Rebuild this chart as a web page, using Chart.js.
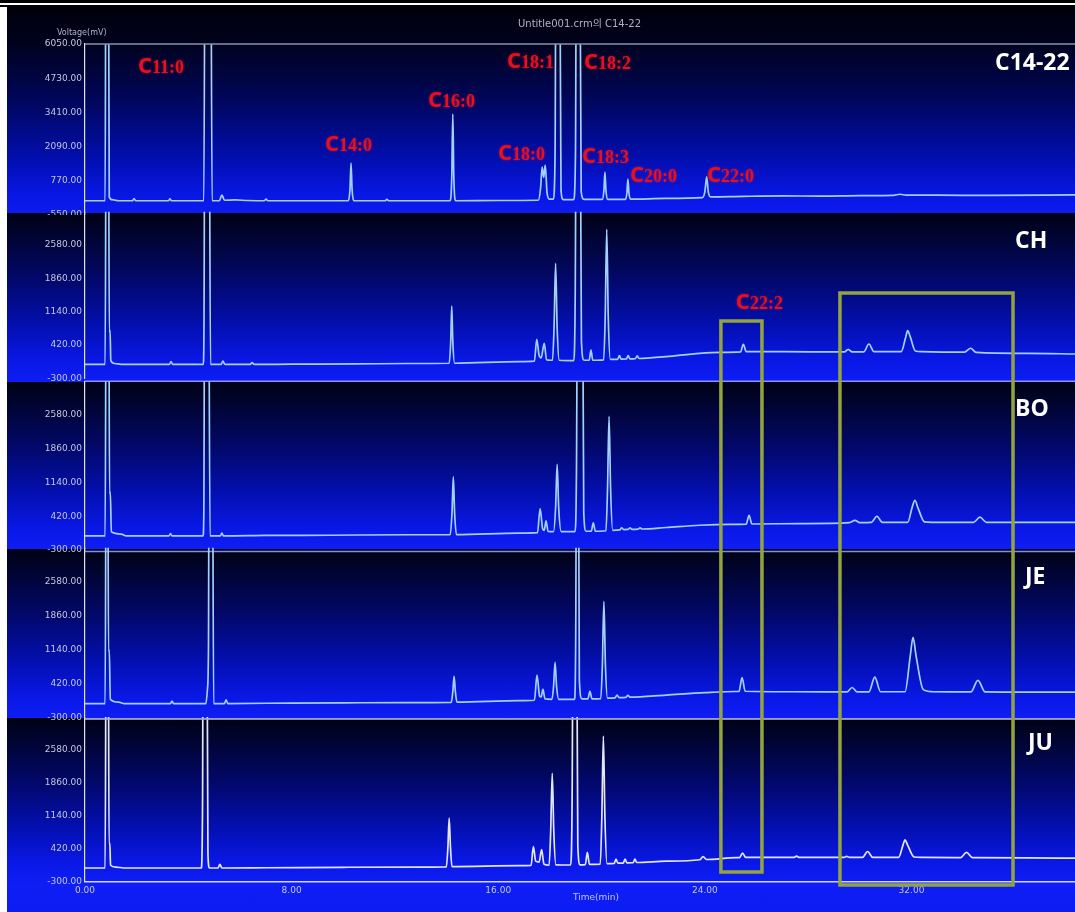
<!DOCTYPE html>
<html>
<head>
<meta charset="utf-8">
<script src="https://cdn.jsdelivr.net/npm/chart.js@4.4.1/dist/chart.umd.min.js"></script>
<style>
  html, body { margin: 0; padding: 0; background: #fff; }
  #page { position: relative; width: 1075px; height: 912px; overflow: hidden; background: #fff; }
  .rule { position: absolute; left: 0; width: 1075px; background: #000; }
  .band { position: absolute; left: 7px; width: 1068px; }
  .band.std { background: linear-gradient(180deg, #00000a 0%, #00021e 18%, #00065a 45%, #020eaa 72%, #0816e0 90%, #0c1cf0 100%); }
  .band.smp { background: linear-gradient(180deg, #000114 0%, #01042e 12%, #02086c 40%, #0410b4 68%, #0a18e6 88%, #0e1ef4 100%); }
  .band.last { background: linear-gradient(180deg, #000114 0px, #01042e 20px, #02086c 66px, #0410b4 112px, #0a18e6 145px, #0e1ef4 165px, #0c1cf4 194px); }
  canvas.panel { position: absolute; left: 7px; }
  #overlay { position: absolute; left: 0; top: 0; pointer-events: none; }
  .txt { position: absolute; white-space: nowrap; }
  .name { font: 700 23px "Open Sans", sans-serif; color: #fff; line-height: 23px; }
  .small { font: 400 8px "DejaVu Sans", sans-serif; color: #b0b4c8; line-height: 10px; }
</style>
</head>
<body>
<div id="page">
  <div class="rule" style="top:0;height:3px"></div>
  <div class="rule" style="top:5px;height:2px"></div>

  <div class="band std"  style="top:7px;height:206px"></div>
  <div class="band smp"  style="top:213px;height:169px"></div>
  <div class="band smp"  style="top:382px;height:167px"></div>
  <div class="band smp"  style="top:549px;height:169px"></div>
  <div class="band last" style="top:718px;height:194px"></div>

  <canvas class="panel" id="pStd"></canvas>
  <canvas class="panel" id="pCH"></canvas>
  <canvas class="panel" id="pBO"></canvas>
  <canvas class="panel" id="pJE"></canvas>
  <canvas class="panel" id="pJU"></canvas>
  <canvas id="overlay" width="1075" height="912"></canvas>

  <div class="txt small" style="left:57px;top:28px">Voltage(mV)</div>
  <div class="txt small" style="left:518px;top:19px;font-size:10px;font-family:'DejaVu Sans','Noto Sans CJK KR',sans-serif;color:#aeb2c4">Untitle001.crm의 C14-22</div>
  <div class="txt small" style="left:573px;top:892px;font-size:9px;color:#c4c8e4">Time(min)</div>

  <div class="txt name" style="left:995px;top:50px">C14-22</div>
  <div class="txt name" style="left:1015px;top:228px">CH</div>
  <div class="txt name" style="left:1015px;top:396px">BO</div>
  <div class="txt name" style="left:1025px;top:564px">JE</div>
  <div class="txt name" style="left:1028px;top:730px">JU</div>
</div>

<script>
// Axis ticks
const timeTicks = [0, 8, 16, 24, 32];
const stdTicks = [-550, 770, 2090, 3410, 4730, 6050];
const sampleTicks = [-300, 420, 1140, 1860, 2580];

// Detector traces: [retention time (min), signal (mV)]
const traceStd = [
  [0,0],[0.78,0],[0.81,12000],[0.90,12000],[0.94,150],[1.05,40],[1.3,0],
  [1.84,0],[1.90,80],[1.96,0],
  [3.23,0],[3.29,70],[3.35,0],
  [4.60,0],[4.66,14000],[4.86,14000],[4.92,0],
  [5.20,0],[5.30,220],[5.40,20],[5.8,30],[6.3,10],
  [6.94,0],[7.01,60],[7.08,0],
  [10.19,0],[10.26,450],[10.30,1457],[10.34,450],[10.41,0],
  [11.62,0],[11.69,50],[11.76,0],
  [14.13,0],[14.20,900],[14.24,3348],[14.28,900],[14.35,0],
  [16.0,10],[17.55,20],[17.64,500],[17.70,1300],[17.76,900],[17.82,1380],[17.89,300],[17.98,60],
  [18.13,60],[18.20,1800],[18.24,12000],[18.37,12000],[18.43,400],[18.52,40],
  [18.92,40],[18.99,1800],[19.03,12000],[19.15,12000],[19.21,350],[19.32,50],
  [20.03,50],[20.09,400],[20.13,1110],[20.17,400],[20.24,50],
  [20.93,55],[20.98,300],[21.02,840],[21.06,300],[21.12,60],
  [22.5,90],[23.9,120],[24.0,350],[24.07,920],[24.13,350],[24.22,150],
  [25.5,170],[27.0,185],[28.5,180],[30.0,200],[31.3,210],[31.55,250],[31.8,215],[33.0,215],[35.0,205],[38.4,230]
];

const traceCH = [
  [0,0],[0.78,0],[0.82,6000],[0.91,6000],[0.94,700],[0.97,740],[1.0,80],[1.15,20],[1.4,0],
  [3.27,0],[3.33,60],[3.40,0],
  [4.58,0],[4.61,1200],[4.64,7000],[4.80,7000],[4.86,0],
  [5.27,0],[5.34,70],[5.42,0],
  [6.40,0],[6.47,40],[6.55,0],
  [8.0,5],[10.5,10],[12.5,20],
  [14.10,25],[14.16,500],[14.20,1262],[14.24,500],[14.31,25],
  [16.8,60],
  [17.40,70],[17.49,543],[17.58,200],[17.66,140],[17.78,457],[17.87,100],[18.00,90],
  [18.10,90],[18.16,800],[18.22,2185],[18.28,800],[18.36,90],
  [18.92,80],[18.98,1500],[19.02,6000],[19.17,6000],[19.22,500],[19.32,90],
  [19.52,90],[19.59,312],[19.66,90],
  [20.08,100],[20.14,1000],[20.20,2919],[20.26,1000],[20.34,110],
  [20.62,110],[20.69,190],[20.76,115],[20.96,118],[21.03,190],[21.10,120],[21.31,125],[21.38,185],[21.45,128],
  [22.5,170],[23.8,240],[24.6,260],
  [25.38,270],[25.49,435],[25.60,275],
  [27.0,275],[28.5,272],[29.40,270],[29.55,327],[29.70,270],
  [30.15,270],[30.35,441],[30.55,275],
  [31.60,275],[31.78,600],[31.85,729],[31.95,600],[32.15,290],[32.40,275],
  [34.05,265],[34.29,349],[34.50,260],
  [36.5,240],[38.4,225]
];

const traceBO = [
  [0,0],[0.78,0],[0.82,6000],[0.92,6000],[0.95,900],[0.98,940],[1.02,90],[1.4,40],[1.6,0],
  [3.25,0],[3.31,50],[3.37,0],
  [4.57,0],[4.60,450],[4.64,7000],[4.78,7000],[4.84,0],
  [5.24,0],[5.30,60],[5.36,0],
  [7.0,10],[9.5,15],[12.5,25],
  [14.14,30],[14.21,500],[14.26,1258],[14.31,500],[14.38,30],
  [16.8,60],
  [17.52,70],[17.62,584],[17.72,150],[17.78,120],[17.85,320],[17.93,95],
  [18.14,90],[18.22,600],[18.28,1529],[18.34,600],[18.44,90],
  [18.97,90],[19.03,1500],[19.07,6000],[19.26,6000],[19.31,500],[19.40,100],
  [19.60,100],[19.68,277],[19.76,100],
  [20.17,110],[20.23,1000],[20.29,2553],[20.35,1000],[20.43,120],
  [20.70,130],[20.78,170],[20.86,135],[21.02,138],[21.10,170],[21.18,140],[21.41,145],[21.49,170],[21.57,148],
  [22.5,180],[23.8,228],[25.0,245],
  [25.60,250],[25.71,441],[25.82,255],
  [27.7,264],[29.6,285],[29.81,330],[30.0,285],
  [30.45,290],[30.66,420],[30.87,290],
  [31.85,290],[32.03,620],[32.13,761],[32.25,600],[32.50,300],[32.8,290],
  [34.40,290],[34.65,400],[34.90,290],
  [36.5,290],[38.4,290]
];

const traceJE = [
  [0,0],[0.78,0],[0.82,6000],[0.88,6000],[0.91,1100],[0.94,1140],[0.98,90],[1.3,30],[1.5,0],
  [3.31,0],[3.37,50],[3.43,0],
  [4.68,0],[4.74,300],[4.78,1150],[4.81,7000],[4.93,7000],[4.98,0],
  [5.40,0],[5.46,80],[5.53,0],
  [8.0,10],[10.0,15],[12.5,20],
  [14.18,25],[14.24,250],[14.29,575],[14.34,250],[14.40,30],
  [16.8,60],
  [17.40,70],[17.50,600],[17.60,160],[17.66,140],[17.73,300],[17.81,100],
  [18.08,90],[18.14,350],[18.20,870],[18.26,350],[18.34,90],
  [18.95,90],[19.00,1500],[19.03,6000],[19.10,6000],[19.14,500],[19.24,100],
  [19.47,100],[19.55,260],[19.63,100],
  [19.97,105],[20.03,800],[20.09,2164],[20.15,800],[20.23,115],
  [20.52,120],[20.60,180],[20.68,125],[20.94,130],[21.02,175],[21.10,135],
  [22.5,180],[24.0,230],[25.2,255],
  [25.32,255],[25.44,550],[25.56,260],
  [27.5,250],[29.5,245],[29.70,340],[29.90,245],
  [30.35,245],[30.58,560],[30.80,250],
  [31.75,250],[31.95,1000],[32.06,1400],[32.18,1000],[32.45,300],[32.8,250],
  [34.30,245],[34.57,490],[34.85,245],
  [36.5,240],[38.4,240]
];

const traceJU = [
  [0,0],[0.78,0],[0.82,6000],[0.90,6000],[0.93,540],[0.96,550],[0.99,60],[1.2,20],[1.5,0],
  [4.50,0],[4.55,1300],[4.58,7000],[4.71,7000],[4.76,300],[4.82,0],
  [5.15,0],[5.22,80],[5.30,0],
  [7.0,5],[10.0,15],[12.8,20],
  [13.99,25],[14.05,450],[14.10,1090],[14.15,450],[14.21,30],
  [16.8,50],
  [17.27,55],[17.36,470],[17.45,150],[17.58,130],[17.68,400],[17.77,80],
  [17.97,60],[18.03,800],[18.09,2072],[18.15,800],[18.23,70],
  [18.80,65],[18.86,1500],[18.90,6000],[19.03,6000],[19.08,500],[19.17,70],
  [19.37,75],[19.45,340],[19.53,80],
  [19.95,85],[20.01,1100],[20.07,2886],[20.13,1100],[20.21,95],
  [20.49,100],[20.56,195],[20.63,105],[20.84,108],[20.91,195],[20.98,112],[21.22,115],[21.29,195],[21.36,120],
  [22.5,150],[23.8,180],[23.93,250],[24.06,185],
  [25.2,225],[25.34,228],[25.46,325],[25.58,230],
  [27.45,230],[27.55,260],[27.65,230],
  [29.40,230],[29.49,255],[29.60,230],
  [30.10,230],[30.30,360],[30.50,230],
  [31.50,230],[31.67,500],[31.75,616],[31.85,500],[32.10,240],[32.40,230],
  [33.90,228],[34.13,340],[34.36,225],
  [36.5,220],[38.4,215]
];

// Fatty-acid names written beside the peaks (anchor = left end of text baseline)
const stdPeakTags = [
  { name: '11:0', t: 2.05,  mv: 4931 },
  { name: '14:0', t: 9.29,  mv: 1926 },
  { name: '16:0', t: 13.28, mv: 3622 },
  { name: '18:1', t: 16.34, mv: 5125 },
  { name: '18:2', t: 19.32, mv: 5086 },
  { name: '18:0', t: 15.99, mv: 1579 },
  { name: '18:3', t: 19.24, mv: 1464 },
  { name: '20:0', t: 21.10, mv: 731 },
  { name: '22:0', t: 24.08, mv: 731 }
];
const chPeakTags = [ { name: '22:2', t: 25.20, mv: 1198 } ];

// Highlighted retention windows (top edge on CH scale, bottom edge on JU scale)
const highlightWindows = [
  { from: 24.62, to: 26.21, topMv: 938,  bottomMv: -88 },
  { from: 29.23, to: 35.93, topMv: 1543, bottomMv: -372 }
];

const TIME_MAX = 38.33;

const framePlugin = {
  id: 'frame',
  afterDraw(chart, args, opts) {
    if (!opts || !opts.edge) return;
    const { ctx, chartArea: a } = chart;
    const y = (opts.edge === 'top' ? a.top : a.bottom) + opts.offset;
    ctx.save();
    ctx.strokeStyle = opts.color;
    ctx.lineWidth = opts.width;
    ctx.beginPath();
    ctx.moveTo(a.left, y);
    ctx.lineTo(a.right, y);
    ctx.stroke();
    ctx.restore();
  }
};

const peakTagPlugin = {
  id: 'peakTags',
  afterDatasetsDraw(chart, args, opts) {
    if (!opts || !opts.tags) return;
    const { ctx, scales } = chart;
    ctx.save();
    ctx.fillStyle = '#e6101e';
    ctx.shadowColor = 'rgba(255,30,40,0.55)';
    ctx.shadowBlur = 3;
    ctx.textBaseline = 'alphabetic';
    ctx.textAlign = 'left';
    opts.tags.forEach(tag => {
      const x = scales.x.getPixelForValue(tag.t);
      const y = scales.y.getPixelForValue(tag.mv);
      ctx.font = '700 22px "Open Sans", sans-serif';
      ctx.fillText('C', x, y);
      const w = ctx.measureText('C').width;
      ctx.font = '700 18px "Liberation Serif", serif';
      ctx.fillText(tag.name, x + w, y);
    });
    ctx.restore();
  }
};

const panels = [
  { id: 'pStd', trace: traceStd, ticks: stdTicks, min: -550, max: 6050, top: 7, height: 208, padTop: 37, padBottom: 0,
    color: '#a2d0ff', frame: { edge: 'top', offset: 0, color: '#8a90a6', width: 1.5 }, tags: stdPeakTags, showTime: false },
  { id: 'pCH', trace: traceCH, ticks: sampleTicks, min: -300, max: 3300, top: 205, height: 177, padTop: 6.7, padBottom: 3.7,
    color: '#a2d0ff', frame: { edge: 'bottom', offset: 3, color: 'rgba(150,170,255,0.85)', width: 1.5 }, tags: chPeakTags, showTime: false },
  { id: 'pBO', trace: traceBO, ticks: sampleTicks, min: -300, max: 3300, top: 375, height: 179, padTop: 6.25, padBottom: 4,
    color: '#a2d0ff', frame: { edge: 'bottom', offset: 1.5, color: 'rgba(150,170,255,0.85)', width: 1.5 }, tags: null, showTime: false },
  { id: 'pJE', trace: traceJE, ticks: sampleTicks, min: -300, max: 3300, top: 541, height: 181, padTop: 6.7, padBottom: 4.3,
    color: '#a2d0ff', frame: { edge: 'bottom', offset: 1, color: 'rgba(150,170,255,0.85)', width: 1.5 }, tags: null, showTime: false },
  { id: 'pJU', trace: traceJU, ticks: sampleTicks, min: -300, max: 3300, top: 711, height: 201, padTop: 6.1, padBottom: 0,
    color: '#e2e6ff', frame: { edge: 'top', offset: 2, color: '#9ea4bc', width: 1.5 }, tags: null, showTime: true }
];

Chart.defaults.font.family = '"DejaVu Sans", sans-serif';

function fixedTicks(values) {
  return scale => { scale.ticks = values.map(v => ({ value: v })); };
}

const charts = {};
panels.forEach(p => {
  const cv = document.getElementById(p.id);
  cv.width = 1068;
  cv.height = p.height;
  cv.style.top = p.top + 'px';
  charts[p.id] = new Chart(cv, {
    type: 'line',
    data: {
      datasets: [{
        data: p.trace.map(([t, mv]) => ({ x: t, y: mv })),
        borderColor: p.color,
        borderWidth: 1.7,
        pointRadius: 0,
        fill: false,
        cubicInterpolationMode: 'monotone'
      }]
    },
    options: {
      responsive: false,
      animation: false,
      events: [],
      layout: { padding: { top: p.padTop, bottom: p.padBottom, left: 0, right: 0 } },
      plugins: {
        legend: { display: false },
        tooltip: { enabled: false },
        frame: p.frame,
        peakTags: { tags: p.tags }
      },
      scales: {
        x: {
          type: 'linear', min: 0, max: TIME_MAX, display: p.showTime,
          afterBuildTicks: fixedTicks(timeTicks),
          afterFit: s => {
            s.height = p.showTime ? 30.3 : 0;
            s.paddingLeft = 0;
            s.paddingRight = 0;
          },
          grid: { display: false, drawTicks: false },
          border: { display: true, color: '#d4d8ff', width: 1.5 },
          ticks: { padding: 4, color: '#c4c8e4', font: { size: 9 }, maxRotation: 0, autoSkip: false,
                   callback: v => Number(v).toFixed(2) }
        },
        y: {
          type: 'linear', min: p.min, max: p.max,
          afterBuildTicks: fixedTicks(p.ticks),
          afterFit: s => { s.width = 78; s.paddingTop = 0; s.paddingBottom = 0; },
          grid: { display: false, drawTicks: false },
          border: { display: true, color: '#dfe3f0', width: 1.2 },
          ticks: { padding: 3, color: '#c4c8dc', font: { size: 9 }, autoSkip: false,
                   callback: v => Number(v).toFixed(2) }
        }
      }
    },
    plugins: [framePlugin, peakTagPlugin]
  });
});

// Highlight boxes spanning CH..JU, placed through the panels' own scales
(function drawWindows() {
  const ctx = document.getElementById('overlay').getContext('2d');
  const ch = charts.pCH, ju = charts.pJU;
  const chTop = panels.find(p => p.id === 'pCH').top;
  const juTop = panels.find(p => p.id === 'pJU').top;
  ctx.strokeStyle = '#93a43e';
  ctx.lineWidth = 3.5;
  highlightWindows.forEach(w => {
    const x1 = 7 + ju.scales.x.getPixelForValue(w.from);
    const x2 = 7 + ju.scales.x.getPixelForValue(w.to);
    const y1 = chTop + ch.scales.y.getPixelForValue(w.topMv);
    const y2 = juTop + ju.scales.y.getPixelForValue(w.bottomMv);
    ctx.strokeRect(x1, y1, x2 - x1, y2 - y1);
  });
})();
</script>
</body>
</html>
